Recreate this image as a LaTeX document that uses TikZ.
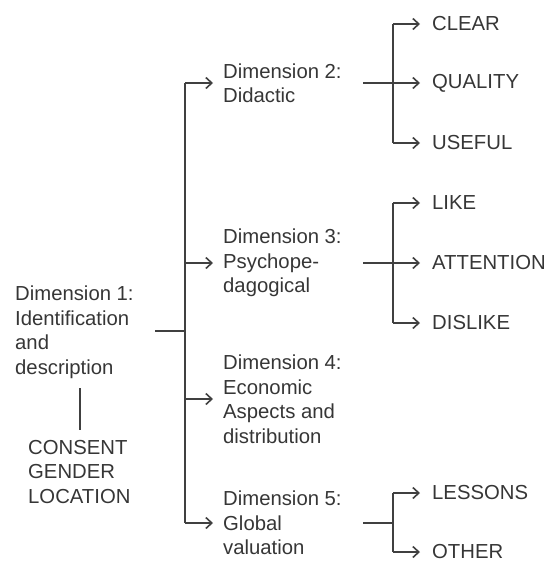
\documentclass[tikz,border=0pt]{standalone}
\usepackage{fontspec}
\setmainfont{Liberation Sans}
\usetikzlibrary{arrows.meta}
\definecolor{txt}{HTML}{363636}
\definecolor{ln}{HTML}{404040}
\tikzset{
  lbl/.style={font={\fontsize{20.3}{24.5}\selectfont}, text=txt, align=left, anchor=west, inner ysep=0pt, inner xsep=0pt},
  dimlbl/.style={lbl, inner xsep=10pt},
  leaf/.style={lbl, inner xsep=12pt},
  conn/.style={draw=ln, line width=1.6pt},
  arr/.style={conn, -{Straight Barb[length=6pt,width=11pt,line width=1.6pt]}}
}
\begin{document}
\begin{tikzpicture}[x=1pt,y=-1pt]
\useasboundingbox (0,0) rectangle (550,573);
% nodes
\node[lbl] (d1) at (15,332) {Dimension 1:\\Identification\\and\\description};
\node[lbl] (cons) at (28,472) {CONSENT\\GENDER\\LOCATION};
\node[dimlbl] (d2) at (213,83) {Dimension 2:\\Didactic};
\node[dimlbl] (d3) at (213,263) {Dimension 3:\\Psychope-\\dagogical};
\node[dimlbl] (d4) at (213,399) {Dimension 4:\\Economic\\Aspects and\\distribution};
\node[dimlbl] (d5) at (213,523) {Dimension 5:\\Global\\valuation};
\node[leaf] (clear) at (420,24) {CLEAR};
\node[leaf] (quality) at (420,83) {QUALITY};
\node[leaf] (useful) at (420,143) {USEFUL};
\node[leaf] (like) at (420,203) {LIKE};
\node[leaf] (attention) at (420,263) {ATTENTION};
\node[leaf] (dislike) at (420,323) {DISLIKE};
\node[leaf] (lessons) at (420,493) {LESSONS};
\node[leaf] (other) at (420,552) {OTHER};
% coordinates
\coordinate (trunk) at (185,0);
\coordinate (br) at (393,0);
\coordinate (j1) at (155,331);
\coordinate (v1) at (80,388);
\coordinate (v2) at (80,430);
\coordinate (s2) at (363,83);
\coordinate (s3) at (363,263);
\coordinate (s5) at (363,523);
% connectors
\draw[conn] (v1) -- (v2);
\draw[conn] (j1) -- (j1 -| trunk);
\draw[conn] (d2.west -| trunk) -- (d5.west -| trunk);
\draw[arr] (d2.west -| trunk) -- (d2.west);
\draw[arr] (d3.west -| trunk) -- (d3.west);
\draw[arr] (d4.west -| trunk) -- (d4.west);
\draw[arr] (d5.west -| trunk) -- (d5.west);
% dim 2
\draw[conn] (clear.west -| br) -- (useful.west -| br);
\draw[arr] (s2) -- (quality.west);
\draw[arr] (clear.west -| br) -- (clear.west);
\draw[arr] (useful.west -| br) -- (useful.west);
% dim 3
\draw[conn] (like.west -| br) -- (dislike.west -| br);
\draw[arr] (s3) -- (attention.west);
\draw[arr] (like.west -| br) -- (like.west);
\draw[arr] (dislike.west -| br) -- (dislike.west);
% dim 5
\draw[conn] (lessons.west -| br) -- (other.west -| br);
\draw[conn] (s5) -- (s5 -| br);
\draw[arr] (lessons.west -| br) -- (lessons.west);
\draw[arr] (other.west -| br) -- (other.west);
\end{tikzpicture}
\end{document}
